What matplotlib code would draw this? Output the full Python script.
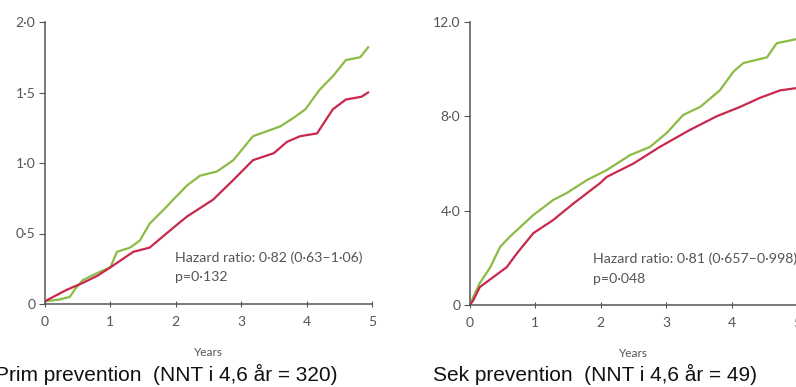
import matplotlib.pyplot as plt

# cumulative incidence (%)
prim_years_green = [0, 0.2, 0.38, 0.45, 0.58, 0.8, 1.0, 1.1, 1.3, 1.45, 1.6, 1.86, 1.96, 2.17,
                    2.37, 2.63, 2.88, 3.18, 3.6, 3.8, 3.98, 4.2, 4.41, 4.6, 4.82, 4.94]
prim_green = [0.02, 0.03, 0.05, 0.10, 0.17, 0.22, 0.26, 0.37, 0.40, 0.45, 0.57, 0.69, 0.74, 0.84,
              0.91, 0.94, 1.02, 1.19, 1.26, 1.32, 1.38, 1.52, 1.62, 1.73, 1.75, 1.82]
prim_years_red = [0, 0.33, 0.58, 0.8, 1.0, 1.35, 1.6, 1.96, 2.17, 2.57, 2.88, 3.18, 3.5, 3.7,
                  3.9, 4.16, 4.4, 4.6, 4.84, 4.94]
prim_red = [0.02, 0.10, 0.15, 0.20, 0.26, 0.37, 0.40, 0.54, 0.62, 0.74, 0.88, 1.02, 1.07, 1.15,
            1.19, 1.21, 1.38, 1.45, 1.47, 1.50]

sek_years_green = [0, 0.05, 0.15, 0.31, 0.46, 0.61, 0.97, 1.27, 1.48, 1.79, 2.09, 2.45, 2.75,
                   3.01, 3.26, 3.52, 3.82, 4.03, 4.18, 4.54, 4.69, 5.0]
sek_green = [0, 0.34, 0.93, 1.6, 2.46, 2.9, 3.82, 4.45, 4.75, 5.3, 5.72, 6.36, 6.7,
             7.3, 8.06, 8.4, 9.1, 9.9, 10.26, 10.5, 11.1, 11.28]
sek_years_red = [0, 0.05, 0.15, 0.36, 0.56, 0.72, 0.97, 1.27, 1.58, 1.99, 2.09, 2.5, 2.9,
                 3.36, 3.77, 4.13, 4.43, 4.74, 5.0]
sek_red = [0, 0.2, 0.76, 1.19, 1.6, 2.2, 3.05, 3.6, 4.3, 5.17, 5.43, 6.0, 6.7,
           7.42, 8.0, 8.4, 8.78, 9.1, 9.2]

x_ticks = [0, 1, 2, 3, 4, 5]
prim_yticks = [0, 0.5, 1.0, 1.5, 2.0]
prim_ylabels = ["0", "0·5", "1·0", "1·5", "2·0"]
sek_yticks = [0, 4, 8, 12]
sek_ylabels = ["0", "4·0", "8·0", "12.0"]

GREEN = "#8cbb45"
RED = "#c8284c"
AX = "#555555"
narrow = ["Lato", "DejaVu Sans"]

fig = plt.figure(figsize=(7.96, 3.87), dpi=100)
W, H = 796, 387


def make_axes(x0, x1, y0, y1):
    return fig.add_axes([x0 / W, 1 - y1 / H, (x1 - x0) / W, (y1 - y0) / H])


def style(ax, yticks, ylabels, ymax):
    ax.set_xlim(0, 5)
    ax.set_ylim(0, ymax)
    for s in ["top", "right"]:
        ax.spines[s].set_visible(False)
    for s in ["left", "bottom"]:
        ax.spines[s].set_color(AX)
        ax.spines[s].set_linewidth(1.1)
    ax.set_xticks(x_ticks)
    ax.set_xticklabels([str(t) for t in x_ticks], family=narrow, fontsize=10, color=AX)
    ax.set_yticks(yticks)
    ax.set_yticklabels(ylabels, family=narrow, fontsize=10, color=AX)
    ax.tick_params(axis="x", direction="inout", length=5, color=AX, pad=6)
    ax.tick_params(axis="y", direction="out", length=4, color=AX, pad=3)
    ax.set_xlabel("Years", family=narrow, fontsize=8.5, color=AX, labelpad=14)
    ax.patch.set_alpha(0)


ax1 = make_axes(45, 372, 22, 304)
ax1.plot(prim_years_green, prim_green, color=GREEN, lw=1.6)
ax1.plot(prim_years_red, prim_red, color=RED, lw=1.6)
style(ax1, prim_yticks, prim_ylabels, 2.0)
ax1.text(1.99, 0.30, "Hazard ratio: 0·82 (0·63–1·06)", family=narrow, fontsize=10.2, color=AX)
ax1.text(1.99, 0.16, "p=0·132", family=narrow, fontsize=10.2, color=AX)

ax2 = make_axes(470, 797, 22, 305)
ax2.plot(sek_years_green, sek_green, color=GREEN, lw=1.6)
ax2.plot(sek_years_red, sek_red, color=RED, lw=1.6)
style(ax2, sek_yticks, sek_ylabels, 12.0)
ax2.text(1.88, 1.8, "Hazard ratio: 0·81 (0·657–0·998)", family=narrow, fontsize=10.2, color=AX)
ax2.text(1.88, 0.95, "p=0·048", family=narrow, fontsize=10.2, color=AX)

fig.text(-5 / W, 1 - 374 / H, "Prim prevention  (NNT i 4,6 år = 320)", family="Liberation Sans",
         fontsize=15, color="#111111", va="center", ha="left")
fig.text(433 / W, 1 - 374 / H, "Sek prevention  (NNT i 4,6 år = 49)", family="Liberation Sans",
         fontsize=15, color="#111111", va="center", ha="left")

fig.savefig("out.png", dpi=100)
